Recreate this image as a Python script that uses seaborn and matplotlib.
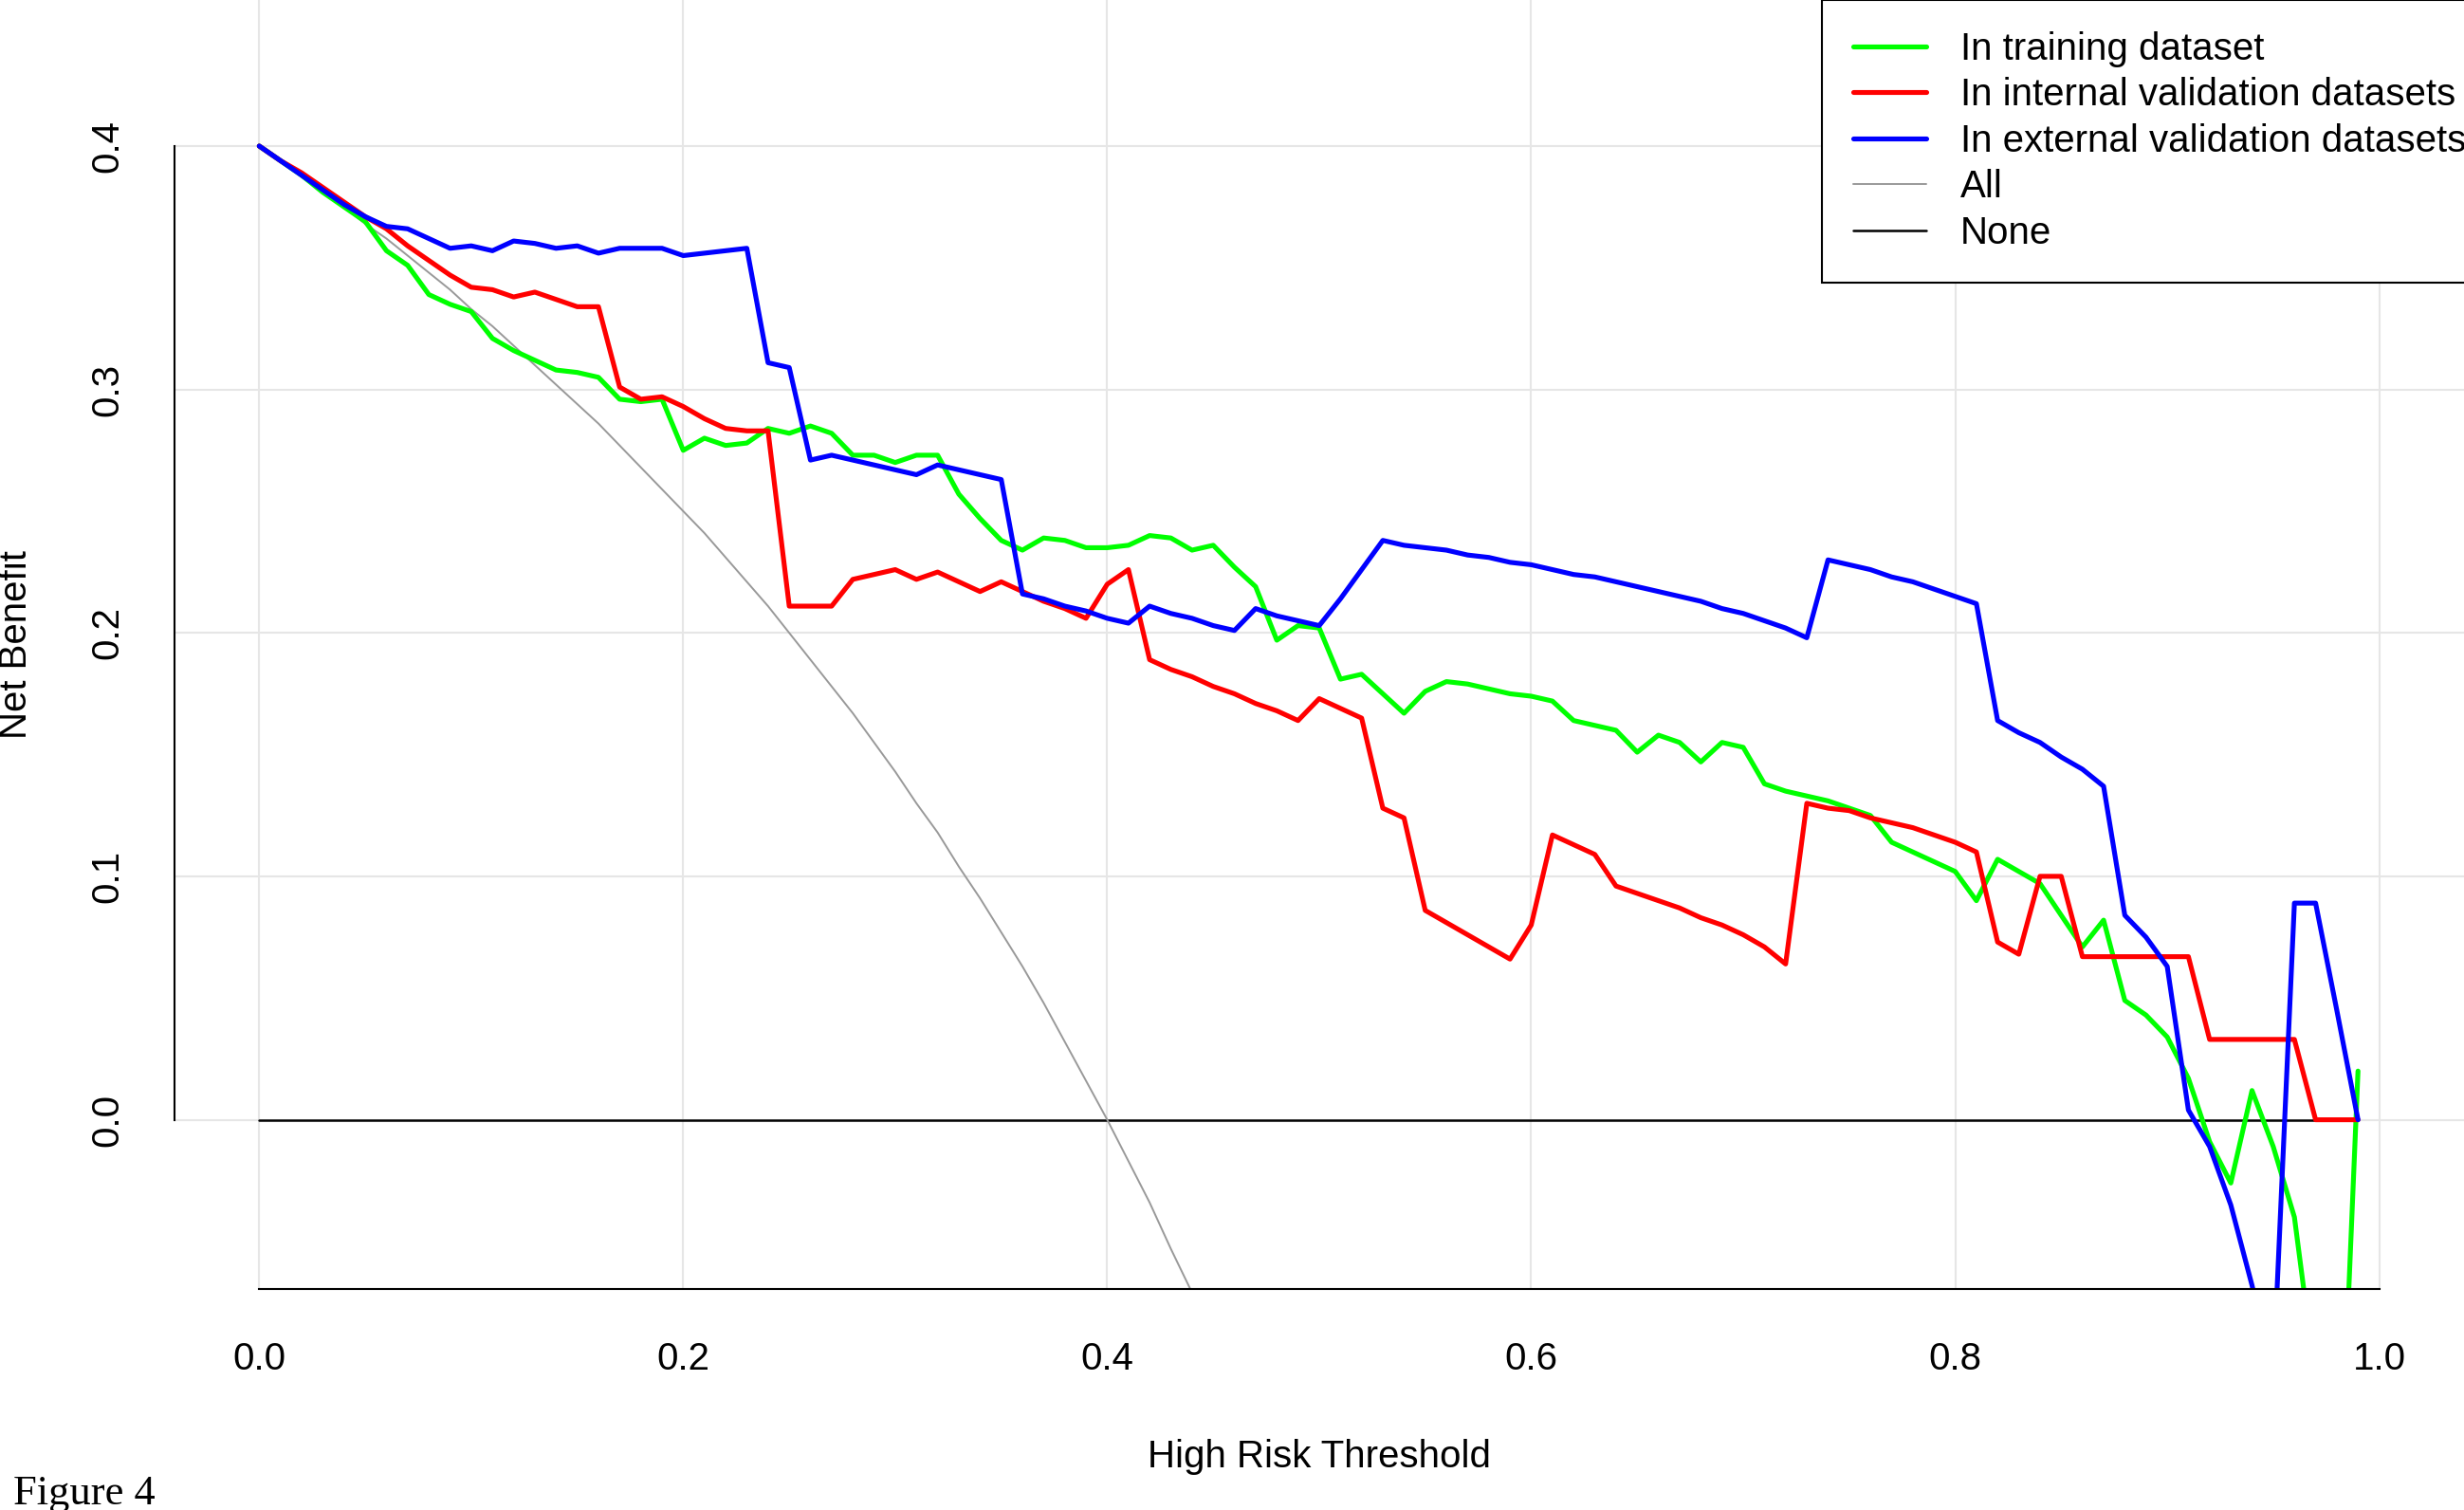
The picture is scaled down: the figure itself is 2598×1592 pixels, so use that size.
import matplotlib
matplotlib.use("Agg")
import matplotlib.pyplot as plt
import numpy as np
import pandas as pd
import seaborn as sns

# threshold grid 0.00 .. 0.99
thresholds = np.round(np.arange(0, 1.0, 0.01), 2)

nb_training = [
    0.400, 0.394, 0.388, 0.381, 0.375, 0.369, 0.357, 0.351, 0.339, 0.335,
    0.332, 0.321, 0.316, 0.312, 0.308, 0.307, 0.305, 0.296, 0.295, 0.296,
    0.275, 0.280, 0.277, 0.278, 0.284, 0.282, 0.285, 0.282, 0.273, 0.273,
    0.270, 0.273, 0.273, 0.257, 0.247, 0.238, 0.234, 0.239, 0.238, 0.235,
    0.235, 0.236, 0.240, 0.239, 0.234, 0.236, 0.227, 0.219, 0.197, 0.203,
    0.202, 0.181, 0.183, 0.175, 0.167, 0.176, 0.180, 0.179, 0.177, 0.175,
    0.174, 0.172, 0.164, 0.162, 0.160, 0.151, 0.158, 0.155, 0.147, 0.155,
    0.153, 0.138, 0.135, 0.133, 0.131, 0.128, 0.125, 0.114, 0.110, 0.106,
    0.102, 0.090, 0.107, 0.102, 0.097, 0.084, 0.071, 0.082, 0.049, 0.043,
    0.034, 0.017, -0.009, -0.026, 0.012, -0.011, -0.040, -0.107, -0.187, 0.020,
]
nb_internal = [
    0.400, 0.394, 0.389, 0.383, 0.377, 0.371, 0.366, 0.359, 0.353, 0.347,
    0.342, 0.341, 0.338, 0.340, 0.337, 0.334, 0.334, 0.301, 0.296, 0.297,
    0.293, 0.288, 0.284, 0.283, 0.283, 0.211, 0.211, 0.211, 0.222, 0.224,
    0.226, 0.222, 0.225, 0.221, 0.217, 0.221, 0.217, 0.213, 0.210, 0.206,
    0.220, 0.226, 0.189, 0.185, 0.182, 0.178, 0.175, 0.171, 0.168, 0.164,
    0.173, 0.169, 0.165, 0.128, 0.124, 0.086, 0.081, 0.076, 0.071, 0.066,
    0.080, 0.117, 0.113, 0.109, 0.096, 0.093, 0.090, 0.087, 0.083, 0.080,
    0.076, 0.071, 0.064, 0.130, 0.128, 0.127, 0.124, 0.122, 0.120, 0.117,
    0.114, 0.110, 0.073, 0.068, 0.100, 0.100, 0.067, 0.067, 0.067, 0.067,
    0.067, 0.067, 0.033, 0.033, 0.033, 0.033, 0.033, 0.000, 0.000, 0.000,
]
nb_external = [
    0.400, 0.394, 0.388, 0.382, 0.376, 0.371, 0.367, 0.366, 0.362, 0.358,
    0.359, 0.357, 0.361, 0.360, 0.358, 0.359, 0.356, 0.358, 0.358, 0.358,
    0.355, 0.356, 0.357, 0.358, 0.311, 0.309, 0.271, 0.273, 0.271, 0.269,
    0.267, 0.265, 0.269, 0.267, 0.265, 0.263, 0.216, 0.214, 0.211, 0.209,
    0.206, 0.204, 0.211, 0.208, 0.206, 0.203, 0.201, 0.210, 0.207, 0.205,
    0.203, 0.214, 0.226, 0.238, 0.236, 0.235, 0.234, 0.232, 0.231, 0.229,
    0.228, 0.226, 0.224, 0.223, 0.221, 0.219, 0.217, 0.215, 0.213, 0.210,
    0.208, 0.205, 0.202, 0.198, 0.230, 0.228, 0.226, 0.223, 0.221, 0.218,
    0.215, 0.212, 0.164, 0.159, 0.155, 0.149, 0.144, 0.137, 0.084, 0.075,
    0.063, 0.004, -0.011, -0.035, -0.068, -0.105, 0.089, 0.089, 0.045, 0.000,
]

# "treat all" strategy
all_thresholds = thresholds[:47]
nb_all = [
    0.400, 0.394, 0.388, 0.381, 0.375, 0.368, 0.362, 0.355, 0.348, 0.341,
    0.333, 0.326, 0.318, 0.310, 0.302, 0.294, 0.286, 0.277, 0.268, 0.259,
    0.250, 0.241, 0.231, 0.221, 0.211, 0.200, 0.189, 0.178, 0.167, 0.155,
    0.143, 0.130, 0.118, 0.104, 0.091, 0.077, 0.063, 0.048, 0.032, 0.016,
    0.000, -0.017, -0.034, -0.053, -0.071, -0.091, -0.111,
]
nb_none = [0.0] * len(thresholds)

labels = ["In training dataset", "In internal validation datasets",
          "In external validation datasets", "All", "None"]
colors = ["#00FF00", "#FF0000", "#0000FF", "#999999", "#000000"]

sns.set_style("white")
plt.rcParams["font.family"] = ["Liberation Sans", "DejaVu Sans"]
plt.rcParams.update({"text.color": "black", "axes.labelcolor": "black",
                     "xtick.color": "black", "ytick.color": "black"})

fig = plt.figure(figsize=(25.98, 15.92), dpi=100)
ax = fig.add_axes([0.0708, 0.1464, 0.9292, 0.8536])

ax.set_xlim(-0.04, 1.04)
ax.set_ylim(-0.0695, 0.46)
for gx in [0, 0.2, 0.4, 0.6, 0.8, 1.0]:
    ax.axvline(gx, color="#e6e6e6", lw=1.5, zorder=0)
for gy in [0, 0.1, 0.2, 0.3, 0.4]:
    ax.axhline(gy, color="#e6e6e6", lw=1.5, zorder=0)

kw = dict(solid_joinstyle="round", solid_capstyle="round")
sns.lineplot(x=thresholds, y=nb_none, ax=ax, color=colors[4], lw=1.8, label=labels[4], **kw)
sns.lineplot(x=all_thresholds, y=nb_all, ax=ax, color=colors[3], lw=1.4, label=labels[3], **kw)
sns.lineplot(x=thresholds, y=nb_training, ax=ax, color=colors[0], lw=3.7, label=labels[0], **kw)
sns.lineplot(x=thresholds, y=nb_internal, ax=ax, color=colors[1], lw=3.7, label=labels[1], **kw)
sns.lineplot(x=thresholds, y=nb_external, ax=ax, color=colors[2], lw=3.7, label=labels[2], **kw)

for side in ["top", "right"]:
    ax.spines[side].set_visible(False)
ax.spines["left"].set_bounds(0, 0.4)
ax.spines["bottom"].set_bounds(0, 1.0)
for side in ["left", "bottom"]:
    ax.spines[side].set_linewidth(1.5)
    ax.spines[side].set_color("black")

ax.set_xticks([0, 0.2, 0.4, 0.6, 0.8, 1.0])
ax.set_xticklabels(["0.0", "0.2", "0.4", "0.6", "0.8", "1.0"])
ax.set_yticks([0, 0.1, 0.2, 0.3, 0.4])
ax.set_yticklabels(["0.0", "0.1", "0.2", "0.3", "0.4"], rotation=90, va="center")
ax.tick_params(axis="both", direction="out", length=17, width=1.5, labelsize=29,
               colors="black", labelcolor="black")
ax.tick_params(axis="x", pad=23)
ax.tick_params(axis="y", pad=20)

ax.set_xlabel("High Risk Threshold", fontsize=29, color="black")
ax.xaxis.set_label_coords(0.5, -0.13)
ax.xaxis.label.set_va("center")
ax.set_ylabel("Net Benefit", fontsize=29, color="black")
ax.yaxis.set_label_coords(-0.0692, 0.5)
ax.yaxis.label.set_va("center")

handles, labs = ax.get_legend_handles_labels()
order = [labs.index(l) for l in labels]
leg = ax.legend([handles[i] for i in order], labels, loc="upper left",
                bbox_to_anchor=(1921 / 2598, 1.0), bbox_transform=fig.transFigure,
                fontsize=29, frameon=True, fancybox=False, shadow=False,
                borderaxespad=0, borderpad=0.82, labelspacing=0.26,
                handlelength=1.9, handletextpad=0.9, labelcolor="black")
leg.get_frame().set_edgecolor("black")
leg.get_frame().set_linewidth(1.5)
leg.get_frame().set_alpha(1)

fig.text(14 / 2598, 1 - 1575 / 1592, "Figure 4", fontsize=32, va="center",
         ha="left", color="black", family=["Liberation Serif", "DejaVu Serif"])

fig.savefig("out.png", dpi=100)
